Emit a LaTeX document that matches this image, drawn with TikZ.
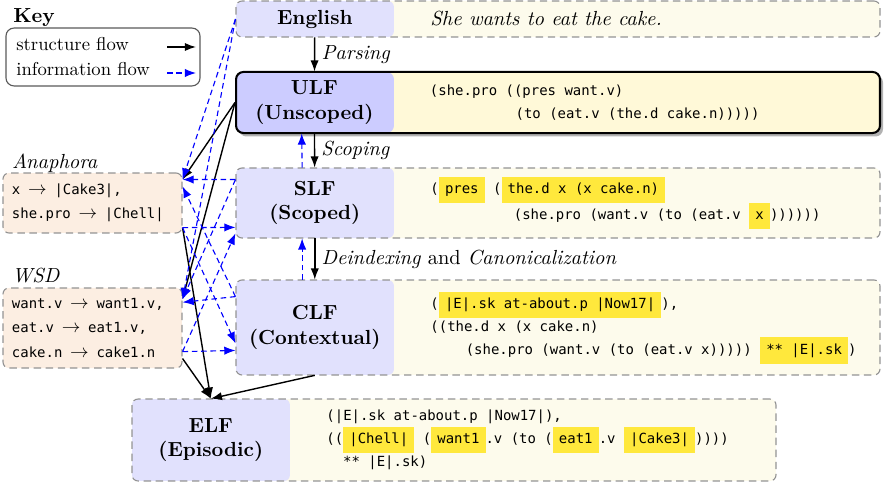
\documentclass[tikz,border=0pt]{standalone}
\usepackage{fontspec}
\usepackage{tikz}
\usetikzlibrary{arrows.meta, positioning}
\newfontfamily\codefont[Scale=0.75]{DejaVu Sans Mono}
\definecolor{lfblue}{HTML}{E1E1FD}
\definecolor{ulfblue}{HTML}{CCCCFF}
\definecolor{lfcream}{HTML}{FDFBEC}
\definecolor{ulfcream}{HTML}{FFF9D8}
\definecolor{ctxpeach}{HTML}{FCEEE2}
\definecolor{hlyellow}{HTML}{FFE83C}
\setlength{\fboxsep}{3.3pt}
\newcommand{\hlt}[1]{\smash{\colorbox{hlyellow}{\vphantom{|}#1}}}

\begin{document}
\begin{tikzpicture}[
    x=0.537pt, y=-0.537pt,
    lfrow/.style={rectangle, draw=gray!85, dash pattern=on 4pt off 2.5pt, line width=0.6pt, rounded corners=3.2pt, fill=lfcream, minimum width=345.8pt, minimum height=#1, inner sep=0pt, path picture={\fill[lfblue] (path picture bounding box.north west) rectangle ([xshift=84.8pt]path picture bounding box.south west);}},
    ulfrow/.style={rectangle, draw=black, line width=1.1pt, rounded corners=4pt, fill=ulfcream, minimum width=345.8pt, minimum height=#1, inner sep=0pt, path picture={\fill[ulfblue] (path picture bounding box.north west) rectangle ([xshift=84.8pt]path picture bounding box.south west);}},
    lflabel/.style={rectangle, minimum width=84.8pt, minimum height=#1, inner sep=0pt, align=center, font=\fontsize{10.95}{13.2}\selectfont\bfseries},
    lfcode/.style={inner sep=0pt, align=left, font=\fontsize{10}{12.3}\selectfont\codefont},
    ctxbox/.style={rectangle, draw=gray!85, dash pattern=on 4pt off 2.5pt, line width=0.6pt, rounded corners=3.2pt, fill=ctxpeach, text width=86.5pt, inner xsep=4.8pt, inner ysep=0pt, minimum height=#1, align=left, font=\fontsize{10}{12.6}\selectfont\codefont},
    grouptitle/.style={inner sep=0pt, anchor=base west, font=\fontsize{10.95}{13}\selectfont\itshape},
    flowlabel/.style={font=\fontsize{10.95}{13}\selectfont\itshape},
    keytext/.style={inner sep=0pt, anchor=base west, font=\fontsize{10}{12}\selectfont},
    structarrow/.style={-{Latex[length=6pt,width=4.4pt]}, line width=0.75pt, black},
    infoarrow/.style={-{Latex[length=6pt,width=4.5pt]}, line width=0.6pt, blue, dash pattern=on 3pt off 2pt}
]
\useasboundingbox (0,0) rectangle (885,483);

\node[inner sep=0pt, anchor=base west, font=\fontsize{10.95}{13}\selectfont\bfseries] (keytitle) at (13,22.7) {Key};
\node[rectangle, draw=gray!70!black, line width=0.6pt, rounded corners=4.3pt, minimum width=104.2pt, minimum height=31.1pt] (keybox) at (103,57) {};
\node[keytext] (keystruct) at (16,51) {structure flow};
\node[keytext] (keyinfo) at (16,76) {information flow};
\coordinate (ks1) at (167,47);
\coordinate (ks2) at (196,47);
\coordinate (ki1) at (167,73);
\coordinate (ki2) at (196,73);
\draw[structarrow] (ks1) -- (ks2);
\draw[infoarrow] (ki1) -- (ki2);

\node[grouptitle] (anaphtitle) at (11.7,169) {Anaphora};
\node[ctxbox=32.2pt] (anaph) at (92.5,203) {x $\,\rightarrow\,$ |Cake3|,\\she.pro $\,\rightarrow\,$ |Chell|};
\node[grouptitle] (wsdtitle) at (11.7,283) {WSD};
\node[ctxbox=43pt, font=\fontsize{10}{13}\selectfont\codefont] (wsd) at (92.5,328) {want.v $\,\rightarrow\,$ want1.v,\\eat.v $\,\rightarrow\,$ eat1.v,\\cake.n $\,\rightarrow\,$ cake1.n};

\node[lfrow=19.3pt] (engrow) at (558,19) {};
\node[lflabel=19.3pt, right=0pt of engrow.west] (eng) {English};
\node[right=19.3pt of eng, inner sep=0pt, flowlabel] (engtxt) {She wants to eat the cake.};

\fill[black!30, rounded corners=4pt] (239,75) rectangle (883,136.5);
\node[ulfrow=32.8pt] (ulfrow) at (558,102.5) {};
\node[lflabel=32.8pt, right=0pt of ulfrow.west] (ulf) {ULF\\(Unscoped)};
\node[lfcode, right=19.3pt of ulf] (ulftxt) {(she.pro ((pres want.v)\\\hspace*{46pt}(to (eat.v (the.d cake.n)))))};

\node[lfrow=37.6pt] (slfrow) at (558,203) {};
\node[lflabel=37.6pt, right=0pt of slfrow.west] (slf) {SLF\\(Scoped)};
\node[lfcode, right=19.3pt of slf, font=\fontsize{10}{14}\selectfont\codefont] (slftxt) {(\hlt{pres} (\hlt{the.d x (x cake.n)}\\\hspace*{44.8pt}(she.pro (want.v (to (eat.v \hlt{x}))))))};

\node[lfrow=51pt] (clfrow) at (558,327.5) {};
\node[lflabel=51pt, right=0pt of clfrow.west] (clf) {CLF\\(Contextual)};
\node[lfcode, right=19.3pt of clf] (clftxt) {(\hlt{|E|.sk at-about.p |Now17|}),\\((the.d x (x cake.n)\\\hspace*{19pt}(she.pro (want.v (to (eat.v x))))) \hlt{** |E|.sk})};

\node[lfrow=44pt] (elfrow) at (454,440) {};
\node[lflabel=44pt, right=0pt of elfrow.west] (elf) {ELF\\(Episodic)};
\node[lfcode, right=19.3pt of elf] (elftxt) {(|E|.sk at-about.p |Now17|),\\((\hlt{|Chell|} (\hlt{want1}.v (to (\hlt{eat1}.v \hlt{|Cake3|}))))\\\hspace*{9pt}** |E|.sk)};

\draw[structarrow] (eng) -- node[flowlabel, right] (parsing) {Parsing} (ulf);
\draw[structarrow] (ulf) -- node[flowlabel, right] (scoping) {Scoping} (slf);
\draw[structarrow] (slf) -- node[flowlabel, right] (canon) {Deindexing \upshape and \itshape Canonicalization} (clf);
\draw[structarrow] (clf.south) -- (elf.north);
\draw[structarrow] (ulf.west) -- ([yshift=-3.8pt]anaph.north east);
\draw[structarrow] (ulf.west) -- ([yshift=-6.4pt]wsd.north east);
\draw[structarrow] ([yshift=3.2pt]anaph.south east) -- (elf.north);
\draw[structarrow] ([yshift=5.4pt]wsd.south east) -- (elf.north);

\draw[infoarrow] (eng.west) -- ([yshift=-3.8pt]anaph.north east);
\draw[infoarrow] (eng.west) -- ([yshift=-6.4pt]wsd.north east);
\draw[infoarrow] ([yshift=-6.4pt]slf.north west) -- ([yshift=-3.8pt]anaph.north east);
\draw[infoarrow] ([yshift=3.2pt]anaph.south east) -- ([yshift=5.9pt]slf.south west);
\draw[infoarrow] ([yshift=-6.4pt]slf.north west) -- ([yshift=-6.4pt]wsd.north east);
\draw[infoarrow] ([yshift=9.1pt]wsd.south east) -- ([yshift=2.7pt]slf.south west);
\draw[infoarrow] ([yshift=-9.1pt]clf.north west) -- ([yshift=-7.5pt]anaph.north east);
\draw[infoarrow] ([yshift=3.2pt]anaph.south east) -- ([yshift=17.2pt]clf.south west);
\draw[infoarrow] ([yshift=-9.1pt]clf.north west) -- ([yshift=-8pt]wsd.north east);
\draw[infoarrow] ([yshift=9.1pt]wsd.south east) -- ([yshift=13.4pt]clf.south west);
\draw[infoarrow] ([xshift=-6.8pt]slf.north) -- ([xshift=-6.8pt]ulf.south);
\draw[infoarrow] ([xshift=-6.8pt]clf.north) -- ([xshift=-6.8pt]slf.south);
\end{tikzpicture}
\end{document}
